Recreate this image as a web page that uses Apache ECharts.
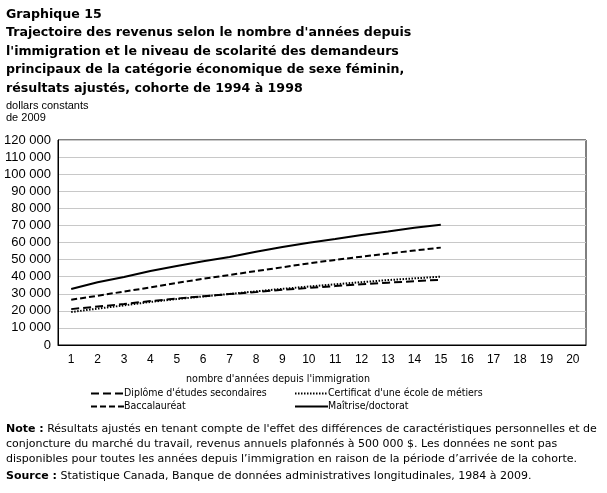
<!DOCTYPE html>
<html>
<head>
<meta charset="utf-8">
<script src="https://cdn.jsdelivr.net/npm/echarts@6/dist/echarts.min.js"></script>
<style>
  html, body { margin: 0; padding: 0; background: #fff; }
  #chart { width: 607px; height: 493px; }
</style>
</head>
<body>
<div id="chart"></div>
<script>
// années depuis l'immigration
const years = ['1','2','3','4','5','6','7','8','9','10','11','12','13','14','15','16','17','18','19','20'];
// valeurs (dollars constants de 2009)
const diplome = [21000, 22500, 24000, 25700, 27200, 28500, 29800, 31000, 32300, 33400, 34500, 35500, 36500, 37300, 38200];
const certificat = [19300, 21300, 23200, 25200, 26900, 28400, 29900, 31400, 32900, 34200, 35500, 36800, 38000, 39000, 40000];
const bacc = [26500, 28800, 31300, 33700, 36300, 38800, 41000, 43300, 45500, 47800, 49800, 51700, 53500, 55300, 57000];
const maitrise = [32800, 36700, 39800, 43300, 46200, 49000, 51500, 54600, 57400, 59900, 62000, 64400, 66500, 68700, 70400];

const font = 'Liberation Sans';
const narrow = 'DejaVu Sans Condensed';
var myChart = echarts.init(document.getElementById('chart'));

function serie(name, data, type){
    return {
        name: name,
        type: 'line',
        data: data,
        symbol: 'none',
        smooth: false,
        lineStyle: { color: '#000', width: 2, type: type },
        itemStyle: { color: '#000' }
    };
}

let legendBase = {
    orient: 'vertical', top: 388, padding: 0,
    itemWidth: 33, itemHeight: 8, itemGap: 2,
    itemStyle: { color: 'transparent', borderWidth: 0 },
    lineStyle: { width: 2 },
    textStyle: { fontFamily: narrow, fontSize: 10.5, color: '#000', padding: [0, 0, 0, -5] }
};

let option = {
    animation: false,
    title: [
        {
            text: 'Graphique 15\nTrajectoire des revenus selon le nombre d\'années depuis\nl\'immigration et le niveau de scolarité des demandeurs\nprincipaux de la catégorie économique de sexe féminin,\nrésultats ajustés, cohorte de 1994 à 1998',
            left: 6, top: 5, padding: 0,
            textStyle: { fontFamily: 'DejaVu Sans', fontSize: 12.6, fontWeight: 'bold', lineHeight: 18.6, color: '#000' }
        },
        {
            text: 'dollars constants\nde 2009',
            left: 6, top: 100, padding: 0,
            textStyle: { fontFamily: font, fontSize: 11, fontWeight: 'normal', lineHeight: 12, color: '#000' }
        },
        {
            text: '{b|Note :} Résultats ajustés en tenant compte de l\'effet des différences de caractéristiques personnelles et de\nconjoncture du marché du travail, revenus annuels plafonnés à 500 000 $. Les données ne sont pas\ndisponibles pour toutes les années depuis l’immigration en raison de la période d’arrivée de la cohorte.',
            left: 6, top: 422, padding: 0,
            textStyle: {
                fontFamily: 'DejaVu Sans', fontSize: 11, fontWeight: 'normal', lineHeight: 14.8, color: '#000',
                rich: { b: { fontFamily: 'DejaVu Sans', fontSize: 11, fontWeight: 'bold' } }
            }
        },
        {
            text: '{b|Source :} Statistique Canada, Banque de données administratives longitudinales, 1984 à 2009.',
            left: 6, top: 471, padding: 0,
            textStyle: {
                fontFamily: 'DejaVu Sans', fontSize: 11, fontWeight: 'normal', color: '#000',
                rich: { b: { fontFamily: 'DejaVu Sans', fontSize: 11, fontWeight: 'bold' } }
            }
        }
    ],
    legend: [
        Object.assign({}, legendBase, { left: 90, data: ['Diplôme d\'études secondaires', 'Baccalauréat'] }),
        Object.assign({}, legendBase, { left: 294, data: ['Certificat d\'une école de métiers', 'Maîtrise/doctorat'] })
    ],
    grid: {
        left: 58, right: 21, top: 140, bottom: 148,
        show: true, borderColor: '#000', borderWidth: 1
    },
    xAxis: {
        type: 'category',
        data: years,
        boundaryGap: true,
        name: 'nombre d\'années depuis l\'immigration',
        nameLocation: 'middle',
        nameGap: 29,
        nameTextStyle: { fontFamily: narrow, fontSize: 10.6, color: '#000', padding: [0, 88, 0, 0] },
        axisLine: { lineStyle: { color: '#000', width: 1 } },
        axisTick: { inside: true, length: 4, lineStyle: { color: '#000' } },
        axisLabel: { fontFamily: font, fontSize: 12, color: '#000', margin: 9 },
        splitLine: { show: false }
    },
    yAxis: {
        type: 'value',
        min: 0, max: 120000, interval: 10000,
        axisLine: { show: true, lineStyle: { color: '#000', width: 1 } },
        axisTick: { show: false },
        axisLabel: {
            fontFamily: font, fontSize: 13, color: '#000', margin: 7,
            formatter: (v) => String(v).replace(/\B(?=(\d{3})+(?!\d))/g, ' ')
        },
        splitLine: { lineStyle: { color: '#c8c8c8', width: 1 } }
    },
    series: [
        serie('Diplôme d\'études secondaires', diplome, [8, 4]),
        serie('Certificat d\'une école de métiers', certificat, [1.5, 1.5]),
        serie('Baccalauréat', bacc, [6, 3]),
        serie('Maîtrise/doctorat', maitrise, 'solid')
    ]
};
myChart.setOption(option);
</script>
</body>
</html>
